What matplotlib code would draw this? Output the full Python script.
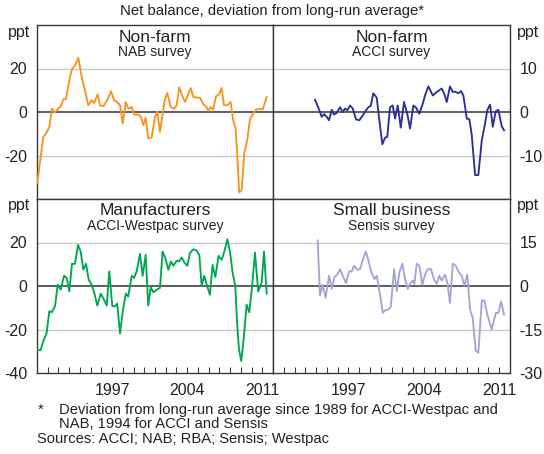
import matplotlib
matplotlib.use("Agg")
import matplotlib.pyplot as plt

plt.rcParams['font.family'] = ['Liberation Sans', 'DejaVu Sans']

# ---------------- data ----------------
nab_dates = [1990.03, 1990.59, 1990.84, 1991.15, 1991.40, 1991.68, 1991.99, 1992.21, 1992.45, 1992.70,
             1993.01, 1993.23, 1993.54, 1993.85, 1994.17, 1994.47, 1994.78, 1995.10, 1995.31, 1995.66,
             1995.87, 1996.18, 1996.55, 1996.90, 1997.18, 1997.48, 1997.74, 1997.99, 1998.27, 1998.51,
             1998.83, 1999.07, 1999.44, 1999.69, 1999.91, 2000.13, 2000.37, 2000.69, 2001.00, 2001.21,
             2001.46, 2001.93, 2002.15, 2002.46, 2002.77, 2003.02, 2003.26, 2003.55, 2003.80, 2004.05,
             2004.33, 2004.58, 2004.89, 2005.19, 2005.50, 2005.81, 2005.96, 2006.19, 2006.43, 2006.68,
             2006.96, 2007.21, 2007.43, 2007.74, 2008.05, 2008.29, 2008.51, 2008.66, 2008.85, 2009.08,
             2009.32, 2009.60, 2009.85, 2010.10, 2010.41, 2010.72, 2011.03, 2011.41]
nab_values = [-32.5, -11.4, -9.9, -6.9, 1.5, -0.3, 1.5, 2.6, 5.8, 6.1,
              14.5, 19.4, 21.4, 24.9, 16.0, 9.9, 3.1, 5.4, 4.1, 8.1,
              3.1, 2.6, 5.4, 9.6, 5.4, 4.6, 3.1, -5.3, 4.6, 1.5,
              2.3, -1.2, -1.2, -2.3, -6.1, -2.6, -12.2, -11.7, -2.3, 0.3,
              -9.2, 6.1, 8.7, 2.3, 1.5, 3.1, 11.4, 7.2, 4.6, 7.6,
              11.0, 6.9, 6.6, 6.6, 3.5, 2.3, 0.5, 2.3, 1.1, 7.2,
              8.1, 11.0, 3.1, 3.1, 4.6, -3.8, -7.6, -19.0, -37.0, -35.8,
              -19.0, -13.0, -3.5, -1.2, 1.1, 1.5, 1.1, 6.9]

acci_dates = [1993.90, 1994.21, 1994.52, 1994.74, 1994.99, 1995.20, 1995.45, 1995.66, 1995.91, 1996.22,
              1996.47, 1996.69, 1996.90, 1997.15, 1997.40, 1997.71, 1998.01, 1998.33, 1998.64, 1998.85,
              1999.07, 1999.31, 1999.63, 1999.87, 2000.15, 2000.40, 2000.61, 2000.86, 2001.11, 2001.33,
              2001.58, 2001.86, 2002.16, 2002.47, 2002.72, 2003.03, 2003.28, 2003.58, 2003.90, 2004.11,
              2004.42, 2004.83, 2005.20, 2005.66, 2005.91, 2006.13, 2006.43, 2006.69, 2006.90, 2007.21,
              2007.46, 2007.67, 2007.99, 2008.23, 2008.45, 2008.76, 2009.06, 2009.38, 2009.68, 2009.90,
              2010.15, 2010.40, 2010.68, 2010.92, 2011.24, 2011.45]
acci_values = [2.8, 1.0, -1.1, -0.5, -1.1, -1.9, 0.5, -0.6, -0.2, 1.1,
               0.0, 0.8, 0.4, 1.5, 0.8, -1.7, -1.9, -0.8, 0.4, 1.1,
               1.4, 4.3, 3.3, -1.9, -7.4, -5.9, -5.7, 1.1, 1.5, -1.5,
               1.5, -3.6, 2.3, -0.5, -3.8, 1.5, 1.0, -0.4, 1.9, 3.8,
               5.9, 3.8, 4.6, 5.4, 4.1, 2.3, 5.9, 4.6, 4.7, 4.3,
               4.8, 3.8, -1.5, -1.7, -5.3, -14.5, -14.5, -6.5, -2.7, 0.5,
               1.7, -3.4, 0.2, 0.5, -3.3, -4.2]

westpac_dates = [1990.03, 1990.34, 1990.59, 1990.90, 1991.15, 1991.37, 1991.68, 1991.93, 1992.21, 1992.52,
                 1992.77, 1993.01, 1993.26, 1993.54, 1993.82, 1994.07, 1994.32, 1994.57, 1994.82, 1995.10,
                 1995.34, 1995.62, 1995.94, 1996.24, 1996.50, 1996.74, 1997.02, 1997.30, 1997.48, 1997.74,
                 1998.04, 1998.29, 1998.51, 1998.83, 1999.04, 1999.29, 1999.60, 1999.85, 2000.13, 2000.37,
                 2000.60, 2000.84, 2001.16, 2001.46, 2001.71, 2001.96, 2002.24, 2002.49, 2002.70, 2003.02,
                 2003.23, 2003.49, 2003.73, 2004.01, 2004.26, 2004.57, 2004.88, 2005.13, 2005.35, 2005.59,
                 2005.87, 2006.12, 2006.37, 2006.62, 2006.93, 2007.21, 2007.46, 2007.74, 2007.99, 2008.24,
                 2008.48, 2008.67, 2008.83, 2009.04, 2009.29, 2009.54, 2009.79, 2010.07, 2010.32, 2010.62,
                 2010.94, 2011.16, 2011.41]
westpac_values = [-29.2, -29.5, -25.3, -21.5, -11.6, -12.1, -9.3, 0.6, -1.7, 4.7,
                  3.7, -2.5, 10.2, 10.2, 18.9, 15.8, 7.5, 10.2, 2.9, 0.6,
                  -3.2, -9.0, -3.5, -6.3, -9.0, 6.7, -9.3, -9.3, -8.1, -21.8,
                  -10.1, -3.5, -4.8, 4.7, 3.7, 6.7, 14.8, 4.7, 14.3, -9.0,
                  -0.5, -2.9, -1.7, -0.9, 15.8, 12.8, 7.5, 11.3, 9.3, 11.6,
                  11.3, 13.1, 10.8, 9.3, 15.1, 16.9, 16.3, 14.3, 0.1, 4.7,
                  -0.2, -4.0, 9.7, 4.1, 13.9, 12.0, 15.8, 21.5, 15.8, 5.9,
                  0.1, -18.5, -29.2, -34.5, -23.1, -8.6, -12.1, 0.6, 15.4, -2.5,
                  1.4, 15.8, -3.5]

sensis_dates = [1994.15, 1994.36, 1994.61, 1994.89, 1995.20, 1995.45, 1995.69, 1995.97, 1996.22, 1996.53,
                1996.78, 1997.06, 1997.31, 1997.52, 1997.83, 1998.08, 1998.33, 1998.61, 1998.85, 1999.10,
                1999.41, 1999.63, 1999.94, 2000.19, 2000.40, 2000.71, 2000.93, 2001.24, 2001.49, 2001.73,
                2002.01, 2002.26, 2002.51, 2002.72, 2002.97, 2003.12, 2003.34, 2003.58, 2003.86, 2004.11,
                2004.36, 2004.67, 2004.95, 2005.20, 2005.44, 2005.66, 2005.97, 2006.18, 2006.43, 2006.69,
                2006.96, 2007.21, 2007.52, 2007.76, 2008.04, 2008.29, 2008.54, 2008.82, 2009.06, 2009.38,
                2009.62, 2009.90, 2010.31, 2010.68, 2010.92, 2011.17, 2011.45]
sensis_values = [15.7, -3.3, 0.4, -4.1, 3.6, -1.0, 3.1, 3.9, 5.8, 3.1,
                 1.0, 5.0, 5.0, 7.0, 5.6, 5.8, 9.0, 11.9, 9.0, 5.0,
                 2.4, 3.5, -3.0, -9.3, -8.4, -8.1, -7.2, 5.8, -1.8, 4.7,
                 7.7, 2.4, -1.0, 0.8, 1.9, 0.7, 7.7, 7.0, 0.4, 3.9,
                 5.8, 5.8, 2.2, 0.8, 3.5, 1.9, 3.9, 1.2, -5.8, 7.7,
                 7.0, 5.0, 3.5, 0.1, 3.9, -8.1, -11.0, -22.4, -23.0, -5.0,
                 -5.0, -9.9, -15.0, -9.3, -9.3, -5.3, -9.9]

panel_titles = [("Non-farm", "NAB survey"), ("Non-farm", "ACCI survey"),
                ("Manufacturers", "ACCI-Westpac survey"), ("Small business", "Sensis survey")]
year_labels = [1997, 2004, 2011]
title = "Net balance, deviation from long-run average*"
foot1 = "Deviation from long-run average since 1989 for ACCI-Westpac and"
foot2 = "NAB, 1994 for ACCI and Sensis"
sources = "Sources: ACCI; NAB; RBA; Sensis; Westpac"

# ---------------- layout ----------------
W, H = 544, 454
fig = plt.figure(figsize=(W / 100, H / 100), dpi=100)

def fx(px):
    return px / W

def fy(py):
    return 1 - py / H

xl, xm, xr = 37, 273, 510
yt, ym, yb = 25, 199, 373

frame_col = '#3a3a3a'
grid_col = '#c8c8c8'
txt_col = '#222222'

panels = [
    dict(rect=[fx(xl), fy(ym), fx(xm - xl), (ym - yt) / H], x=nab_dates, y=nab_values,
         color='#F7941D', lim=(-40, 40), ticks=[-40, -20, 0, 20, 40], labels=['', '-20', '0', '20', ''],
         side='left', bottom=False),
    dict(rect=[fx(xm), fy(ym), fx(xr - xm), (ym - yt) / H], x=acci_dates, y=acci_values,
         color='#2E3192', lim=(-20, 20), ticks=[-20, -10, 0, 10, 20], labels=['', '-10', '0', '10', ''],
         side='right', bottom=False),
    dict(rect=[fx(xl), fy(yb), fx(xm - xl), (yb - ym) / H], x=westpac_dates, y=westpac_values,
         color='#00A651', lim=(-40, 40), ticks=[-40, -20, 0, 20, 40], labels=['-40', '-20', '0', '20', ''],
         side='left', bottom=True),
    dict(rect=[fx(xm), fy(yb), fx(xr - xm), (yb - ym) / H], x=sensis_dates, y=sensis_values,
         color='#A5A5D5', lim=(-30, 30), ticks=[-30, -15, 0, 15, 30], labels=['-30', '-15', '0', '15', ''],
         side='right', bottom=True),
]

tick_fs = 11.5
for i, p in enumerate(panels):
    ax = fig.add_axes(p['rect'])
    ax.set_xlim(1990, 2012)
    ax.set_ylim(*p['lim'])
    for t in p['ticks'][1:-1]:
        if t == 0:
            ax.axhline(0, color='#333333', lw=1.1, zorder=2)
        else:
            ax.axhline(t, color=grid_col, lw=0.9, zorder=1)
    ax.plot(p['x'], p['y'], color=p['color'], lw=1.35, zorder=3)
    for s in ax.spines.values():
        s.set_color(frame_col)
        s.set_linewidth(1.0)
    ax.set_yticks(p['ticks'])
    ax.set_yticklabels(p['labels'])
    if p['side'] == 'left':
        ax.tick_params(axis='y', left=True, right=False, labelleft=True, labelright=False,
                       length=0, pad=7, labelsize=tick_fs, labelcolor=txt_col)
        ax.text(-7 / (xm - xl), 1 - 7 / (ym - yt), 'ppt', transform=ax.transAxes,
                ha='right', va='center', fontsize=tick_fs, color=txt_col)
    else:
        ax.tick_params(axis='y', left=False, right=True, labelleft=False, labelright=True,
                       length=0, pad=7, labelsize=tick_fs, labelcolor=txt_col)
        ax.text(1 + 7 / (xr - xm), 1 - 7 / (ym - yt), 'ppt', transform=ax.transAxes,
                ha='left', va='center', fontsize=tick_fs, color=txt_col)
    if p['bottom']:
        years = list(range(1991, 2012))
        ax.set_xticks(years)
        ax.set_xticklabels([str(y) if y in year_labels else '' for y in years])
        ax.tick_params(axis='x', direction='in', length=4, width=0.8, color=frame_col,
                       pad=7, labelsize=tick_fs, labelcolor=txt_col)
    else:
        ax.set_xticks([])
    t1, t2 = panel_titles[i]
    ax.text(0.5, 1 - 12 / (ym - yt), t1, transform=ax.transAxes, ha='center', va='center',
            fontsize=12.5, color=txt_col)
    ax.text(0.5, 1 - 27 / (ym - yt), t2, transform=ax.transAxes, ha='center', va='center',
            fontsize=10, color=txt_col)

fig.text(0.5, fy(11), title, ha='center', va='center', fontsize=10.7, color=txt_col)
foot_fs = 10.6
fig.text(fx(38), fy(410), '*', ha='left', va='center', fontsize=foot_fs, color=txt_col)
fig.text(fx(59), fy(410), foot1, ha='left', va='center', fontsize=foot_fs, color=txt_col)
fig.text(fx(59), fy(424), foot2, ha='left', va='center', fontsize=foot_fs, color=txt_col)
fig.text(fx(37), fy(439), sources, ha='left', va='center', fontsize=foot_fs, color=txt_col)

fig.savefig('out.png', dpi=100)
